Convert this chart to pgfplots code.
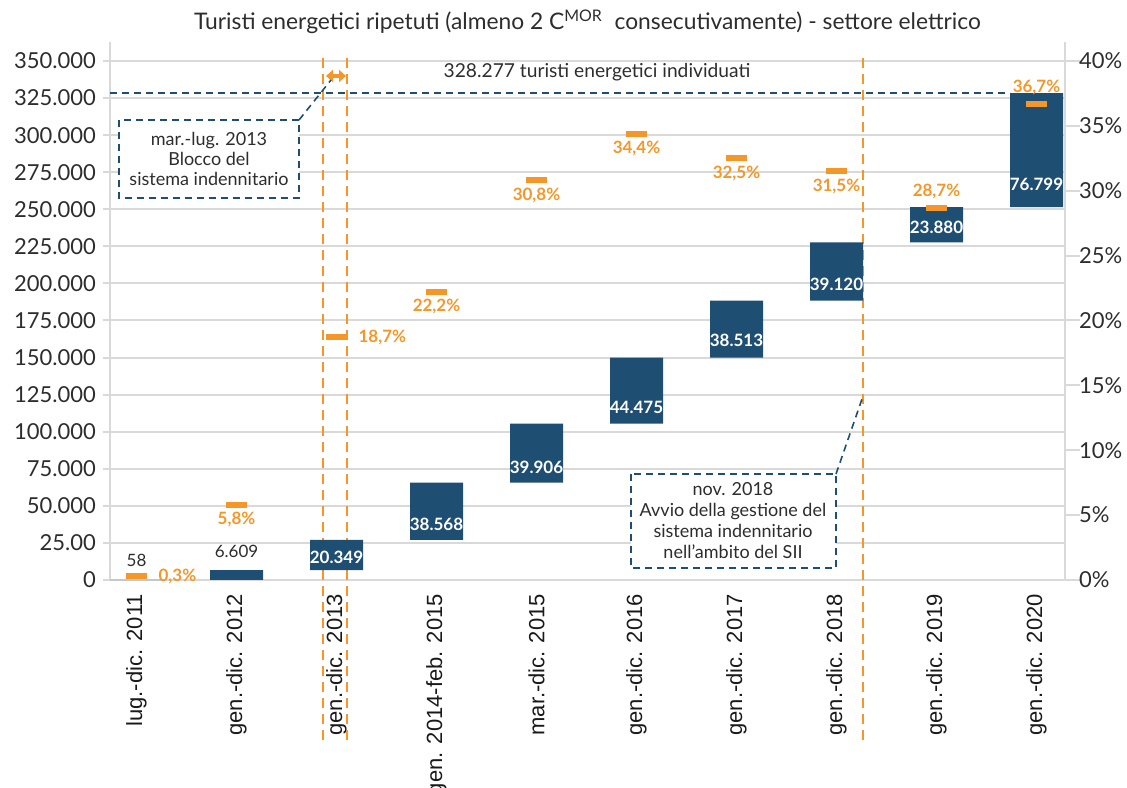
\documentclass[border=0pt]{standalone}
\usepackage{fontspec}
\setmainfont{Lato}
\newfontfamily\arialfont{Liberation Sans}
\usepackage{pgfplots}
\pgfplotsset{compat=1.18}
\usetikzlibrary{calc,arrows.meta}
\definecolor{barblue}{RGB}{31,78,115}
\definecolor{markorange}{RGB}{244,151,40}
\definecolor{gridgray}{RGB}{217,217,217}
\definecolor{textdark}{RGB}{45,45,45}

\pgfplotsset{
  common/.style={scale only axis, width=477.5pt, height=269pt,
    xmin=-0.265, xmax=9.285, enlargelimits=false, clip=false},
  ticktext/.style={font={\fontsize{11}{13}\selectfont}, text=textdark},
}
\tikzset{callout/.style={barblue, line width=0.8pt, dash pattern=on 3.5pt off 2.5pt}}

\begin{document}
\begin{tikzpicture}
% --- left axis: grid, ticks, period markers
\begin{axis}[common,
    ymin=0, ymax=362810,
    axis x line*=bottom, axis y line*=left,
    axis line style={gridgray, line width=1pt, -},
    xtick={0,...,9},
    xticklabels={lug.-dic. 2011, gen.-dic. 2012, gen.-dic. 2013, gen. 2014-feb. 2015,
      mar.-dic. 2015, gen.-dic. 2016, gen.-dic. 2017, gen.-dic. 2018, gen.-dic. 2019, gen.-dic. 2020},
    xticklabel style={rotate=90, anchor=east, font={\arialfont\fontsize{11}{13}\selectfont}, text=black!90},
    x tick style={draw=none},
    scaled y ticks=false,
    ytick={0,25000,...,350000},
    yticklabels={0,25.00,50.000,75.000,100.000,125.000,150.000,175.000,200.000,
      225.000,250.000,275.000,300.000,325.000,350.000},
    yticklabel style={ticktext},
    y tick style={gridgray, line width=1pt},
    tick align=outside, major tick length=3.5pt,
    ymajorgrids, grid style={gridgray, line width=1pt},
]
\coordinate (SW) at (rel axis cs:0,0);
\coordinate (NE) at (rel axis cs:1,1);
\coordinate (B1a) at (axis cs:-0.175,310200);
\coordinate (B1b) at (axis cs:1.625,257600);
\coordinate (B1t) at (axis cs:0.725,283900);
\coordinate (B1c) at (axis cs:1.945,337200);
\coordinate (B2a) at (axis cs:4.945,71480);
\coordinate (B2b) at (axis cs:6.995,8090);
\coordinate (B2t) at (axis cs:5.965,39790);
\coordinate (B2c) at (axis cs:7.255,122060);
\draw[markorange, line width=1pt, dash pattern=on 5pt off 3pt] (axis cs:1.865,352000) -- (axis cs:1.865,-109200);
\draw[markorange, line width=1pt, dash pattern=on 5pt off 3pt] (axis cs:2.105,352000) -- (axis cs:2.105,-109200);
\draw[markorange, line width=1pt, dash pattern=on 5pt off 3pt] (axis cs:7.265,352000) -- (axis cs:7.265,-109200);
\draw[{Triangle[length=3.5pt,width=6pt]}-{Triangle[length=3.5pt,width=6pt]}, markorange, line width=1.8pt]
  (axis cs:1.895,339900) -- (axis cs:2.095,339900);
\draw[barblue, line width=1pt, dash pattern=on 3.5pt off 2.5pt] (axis cs:-0.265,328277) -- (axis cs:8.735,328277);
\node[font={\fontsize{9.6}{11}\selectfont}, text=textdark] at (axis cs:4.605,342600) {328.277 turisti energetici individuati};
\node[font={\fontsize{11.4}{13}\selectfont}, text=textdark] at (rel axis cs:0.5,1) [yshift=10pt]
  {Turisti energetici ripetuti (almeno 2 C\textsuperscript{MOR}\ \ consecutivamente) - settore elettrico};
\end{axis}

% --- waterfall bars
\begin{axis}[common, ymin=0, ymax=362810, hide axis, ybar stacked, bar width=0.53]
% invisible base of the waterfall
\addplot[fill=none, draw=none] coordinates {
  (0,0) (1,58) (2,6667) (3,27016) (4,65584) (5,105490) (6,149965) (7,188478) (8,227598) (9,251478)};
% new repeated tourists per period
\addplot[fill=barblue, draw=none] coordinates {
  (0,58) (1,6609) (2,20349) (3,38568) (4,39906) (5,44475) (6,38513) (7,39120) (8,23880) (9,76799)};
\end{axis}

% --- bar value labels
\begin{axis}[common, ymin=0, ymax=362810, hide axis]
\addplot[draw=none, mark=none, nodes near coords, point meta=explicit symbolic,
  nodes near coords style={anchor=center, text=textdark, font={\fontsize{8.5}{10}\selectfont}}]
  coordinates {(0,13490) [58] (1,19560) [6.609]};
\addplot[draw=none, mark=none, nodes near coords, point meta=explicit symbolic,
  nodes near coords style={anchor=center, text=white, font={\bfseries\fontsize{8.5}{10}\selectfont}}]
  coordinates {(2,15510) [20.349] (3,37760) [38.568] (4,76200) [39.906] (5,116670) [44.475]
    (6,161850) [38.513] (7,199610) [39.120] (8,238050) [23.880] (9,267050) [76.799]};
\end{axis}

% --- callouts
\draw[callout, fill=white] (B1a) rectangle (B1b);
\draw[callout] (B1a -| B1b) -- (B1c);
\node[align=center, font={\fontsize{9}{10}\selectfont}, text=textdark] at (B1t)
  {mar.-lug. 2013\\Blocco del\\sistema indennitario};
\draw[callout, fill=white] (B2a) rectangle (B2b);
\draw[callout] (B2a -| B2b) -- (B2c);
\node[align=center, font={\fontsize{9}{10.5}\selectfont}, text=textdark] at (B2t)
  {nov. 2018\\Avvio della gestione del\\sistema indennitario\\nell’ambito del SII};

% --- right axis: share of repeated tourists
\begin{axis}[common, ymin=0, ymax=41.464,
    axis y line*=right, axis x line=none,
    axis line style={gridgray, line width=1pt, -},
    ytick={0,5,...,40},
    yticklabels={0\%,5\%,10\%,15\%,20\%,25\%,30\%,35\%,40\%},
    yticklabel style={ticktext, xshift=-4pt},
    y tick style={gridgray, line width=1pt},
    tick align=outside, major tick length=7.5pt,
]
\addplot[markorange, only marks, mark=-, mark size=5.25pt, mark options={line width=3pt}] coordinates {
  (0,0.3) (1,5.8) (2,18.7) (3,22.2) (4,30.8) (5,34.4) (6,32.5) (7,31.5) (8,28.7) (9,36.7)};
\addplot[draw=none, mark=none, nodes near coords, point meta=explicit symbolic,
  nodes near coords style={anchor=west, xshift=7.5pt, text=markorange, font={\bfseries\fontsize{8.5}{10}\selectfont}}]
  coordinates {(0,0.3) [{0,3\%}] (2,18.7) [{18,7\%}]};
\addplot[draw=none, mark=none, nodes near coords, point meta=explicit symbolic,
  nodes near coords style={anchor=center, yshift=-7.5pt, text=markorange, font={\bfseries\fontsize{8.5}{10}\selectfont}}]
  coordinates {(1,5.8) [{5,8\%}] (3,22.2) [{22,2\%}] (4,30.8) [{30,8\%}] (5,34.4) [{34,4\%}]
    (6,32.5) [{32,5\%}] (7,31.5) [{31,5\%}]};
\addplot[draw=none, mark=none, nodes near coords, point meta=explicit symbolic,
  nodes near coords style={anchor=center, yshift=8pt, text=markorange, font={\bfseries\fontsize{8.5}{10}\selectfont}}]
  coordinates {(8,28.7) [{28,7\%}] (9,36.7) [{36,7\%}]};
\end{axis}

\pgfresetboundingbox
\path[use as bounding box] ($(SW)+(-55pt,-103.5pt)$) rectangle ($(NE)+(31pt,21pt)$);
\end{tikzpicture}
\end{document}
